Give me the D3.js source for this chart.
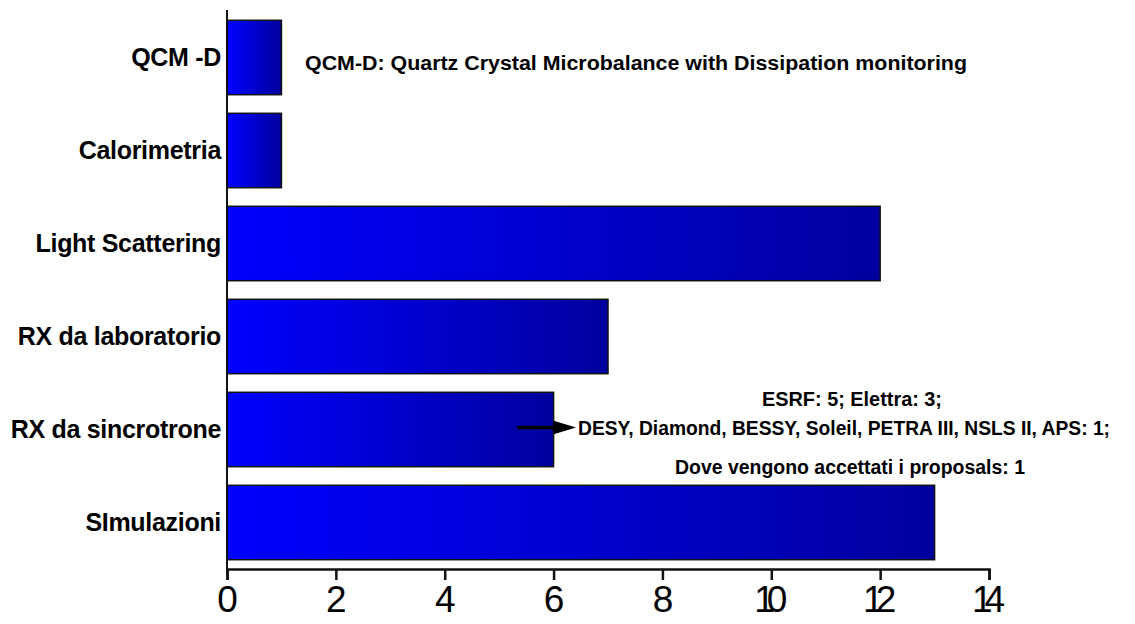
<!DOCTYPE html>
<html><head><meta charset="utf-8">
<script src="https://cdn.jsdelivr.net/npm/d3@7"></script>
<style>body{margin:0;background:#fff}svg{display:block}</style>
</head><body>
<svg id="c" width="1135" height="624"></svg>
<script>
const categories = ["QCM -D","Calorimetria","Light Scattering","RX da laboratorio","RX da sincrotrone","SImulazioni"];
const values = [1,1,12,7,6,13];
const xTicks = [0,2,4,6,8,10,12,14];
const noteQCM = "QCM-D: Quartz Crystal Microbalance with Dissipation monitoring";
const noteRX = ["ESRF: 5; Elettra: 3;","DESY, Diamond, BESSY, Soleil, PETRA III, NSLS II, APS: 1;","Dove vengono accettati i proposals: 1"];

const svg = d3.select("#c");
const font = "'Liberation Sans', Arial, Helvetica, sans-serif";
const x = d3.scaleLinear().domain([0,14]).range([227,989]);
const y = d3.scaleBand().domain(categories).range([11,569]).paddingInner(0.2).paddingOuter(0.1);

const defs = svg.append("defs");
const g = defs.append("linearGradient").attr("id","bg").attr("x1","0").attr("x2","1").attr("y1","0").attr("y2","0");
g.append("stop").attr("offset","0").attr("stop-color","#0000ff");
g.append("stop").attr("offset","1").attr("stop-color","#00009e");

svg.append("g").selectAll("rect").data(categories).join("rect")
  .attr("x", x(0)).attr("y", d=>y(d))
  .attr("width", (d,i)=>x(values[i])-x(0)).attr("height", y.bandwidth())
  .attr("fill","url(#bg)").attr("stroke","#111").attr("stroke-width",1.5);

// y axis line
svg.append("line").attr("x1",x(0)).attr("x2",x(0)).attr("y1",10).attr("y2",569)
  .attr("stroke","#111").attr("stroke-width",2);
// category labels
svg.append("g").selectAll("text").data(categories).join("text")
  .attr("x",221).attr("y",d=>y(d)+y.bandwidth()/2).attr("dy","0.35em")
  .attr("text-anchor","end").attr("font-family",font).attr("font-weight","bold")
  .attr("font-size",25).attr("letter-spacing","-0.3").text(d=>d);

// x axis
const xa = svg.append("g").attr("transform","translate(0,569)")
  .call(d3.axisBottom(x).tickValues(xTicks).tickSize(11).tickPadding(4).tickFormat(d3.format("d")));
xa.select(".domain").attr("stroke","#111").attr("stroke-width",2.5);
xa.selectAll(".tick line").attr("stroke","#111").attr("stroke-width",2.5);
xa.selectAll(".tick text").attr("font-family",font).attr("font-size",37).attr("fill","#000")
  .attr("dy","0.75em")
  .attr("letter-spacing",d=>d>=10?-8:0)
  .attr("dx",d=>d>=10?-5:0);

// notes
svg.append("text").attr("x",305).attr("y",70).attr("font-family",font).attr("font-weight","bold")
  .attr("font-size",19.5).attr("textLength",662).attr("lengthAdjust","spacingAndGlyphs").text(noteQCM);
const ny = [406,435,474];
const nx = [852,844,850];
const nw = [180,532,350];
svg.append("g").selectAll("text").data(noteRX).join("text")
  .attr("x",(d,i)=>nx[i]-nw[i]/2).attr("y",(d,i)=>ny[i])
  .attr("textLength",(d,i)=>nw[i]).attr("lengthAdjust","spacingAndGlyphs")
  .attr("font-family",font).attr("font-weight","bold").attr("font-size",19.5).text(d=>d);

// arrow
const ay = y("RX da sincrotrone")+y.bandwidth()/2-2;
svg.append("line").attr("x1",517).attr("x2",556).attr("y1",ay).attr("y2",ay).attr("stroke","#000").attr("stroke-width",3.5);
svg.append("path").attr("d",`M553,${ay-7}L576,${ay}L553,${ay+7}Z`).attr("fill","#000");
</script>
</body></html>
